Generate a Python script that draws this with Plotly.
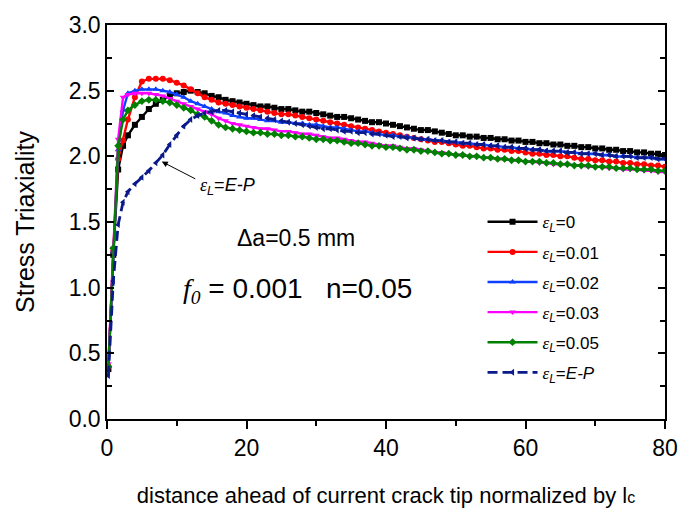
import plotly.graph_objects as go

# distance ahead of crack tip (normalized by lc)
x_vals = [0.2, 0.9, 1.6, 2.3] + list(range(3, 81))

eps_0 = [0.38, 1.25, 1.90, 2.08,
         2.16, 2.24, 2.30, 2.36, 2.40, 2.43, 2.46, 2.48, 2.49, 2.50, 2.49, 2.48, 2.46, 2.45, 2.43, 2.42, 2.41, 2.40,
         2.39, 2.38, 2.38, 2.37, 2.36, 2.36, 2.35, 2.34, 2.34, 2.33,
         2.32, 2.31, 2.30, 2.30, 2.29, 2.28, 2.27, 2.26, 2.26, 2.25,
         2.24, 2.23, 2.22, 2.21, 2.20, 2.20, 2.19, 2.18, 2.17, 2.16,
         2.16, 2.15, 2.15, 2.14, 2.14, 2.13, 2.13, 2.12, 2.12, 2.11,
         2.11, 2.10, 2.10, 2.09, 2.09, 2.08, 2.08, 2.07, 2.07, 2.06,
         2.06, 2.05, 2.05, 2.04, 2.04, 2.03, 2.03, 2.02, 2.02, 2.01]

eps_001 = [0.40, 1.28, 1.98, 2.12,
           2.28, 2.45, 2.57, 2.59, 2.59, 2.59, 2.58, 2.56, 2.54, 2.51, 2.48, 2.45, 2.43, 2.41, 2.40, 2.39, 2.38, 2.37,
           2.36, 2.35, 2.34, 2.33, 2.32, 2.32, 2.31, 2.30, 2.29, 2.28,
           2.27, 2.26, 2.25, 2.24, 2.23, 2.22, 2.21, 2.20, 2.19, 2.18,
           2.17, 2.16, 2.15, 2.14, 2.13, 2.12, 2.11, 2.11, 2.10, 2.09,
           2.08, 2.08, 2.07, 2.06, 2.06, 2.05, 2.05, 2.04, 2.04, 2.03,
           2.02, 2.02, 2.01, 2.01, 2.00, 2.00, 1.99, 1.98, 1.98, 1.97,
           1.97, 1.96, 1.96, 1.95, 1.95, 1.94, 1.94, 1.93, 1.93, 1.92]

eps_002 = [0.40, 1.28, 2.05, 2.35,
           2.48, 2.50, 2.51, 2.51, 2.51, 2.50, 2.49, 2.47, 2.45, 2.42, 2.40, 2.38, 2.36, 2.34, 2.33, 2.31, 2.30, 2.29,
           2.29, 2.28, 2.27, 2.27, 2.26, 2.26, 2.25, 2.25, 2.24, 2.24,
           2.23, 2.22, 2.22, 2.21, 2.20, 2.19, 2.19, 2.18, 2.17, 2.16,
           2.16, 2.15, 2.15, 2.14, 2.13, 2.13, 2.12, 2.12, 2.11, 2.11,
           2.10, 2.10, 2.09, 2.09, 2.08, 2.08, 2.07, 2.07, 2.06, 2.06,
           2.05, 2.05, 2.04, 2.04, 2.04, 2.03, 2.03, 2.02, 2.02, 2.02,
           2.01, 2.01, 2.00, 2.00, 2.00, 1.99, 1.99, 1.99, 1.98, 1.98]

eps_003 = [0.42, 1.30, 2.13, 2.45,
           2.47, 2.48, 2.48, 2.48, 2.47, 2.46, 2.44, 2.42, 2.40, 2.38, 2.36, 2.34, 2.32, 2.29, 2.27, 2.25, 2.24, 2.23,
           2.22, 2.21, 2.21, 2.20, 2.19, 2.19, 2.18, 2.17, 2.17, 2.16,
           2.15, 2.14, 2.14, 2.13, 2.12, 2.11, 2.11, 2.10, 2.09, 2.08,
           2.08, 2.07, 2.06, 2.06, 2.05, 2.04, 2.03, 2.03, 2.02, 2.01,
           2.01, 2.00, 2.00, 1.99, 1.99, 1.98, 1.98, 1.97, 1.97, 1.96,
           1.96, 1.95, 1.95, 1.94, 1.94, 1.94, 1.93, 1.93, 1.92, 1.92,
           1.92, 1.91, 1.91, 1.90, 1.90, 1.90, 1.89, 1.89, 1.88, 1.88]

eps_005 = [0.40, 1.30, 2.08, 2.28,
           2.35, 2.39, 2.42, 2.43, 2.43, 2.42, 2.41, 2.39, 2.37, 2.35, 2.32, 2.30, 2.27, 2.24, 2.22, 2.21, 2.20, 2.19,
           2.18, 2.18, 2.17, 2.17, 2.16, 2.16, 2.15, 2.15, 2.14, 2.13,
           2.13, 2.12, 2.12, 2.11, 2.10, 2.10, 2.09, 2.08, 2.08, 2.07,
           2.07, 2.06, 2.05, 2.05, 2.04, 2.04, 2.03, 2.02, 2.02, 2.01,
           2.01, 2.00, 2.00, 1.99, 1.99, 1.98, 1.98, 1.97, 1.97, 1.96,
           1.96, 1.96, 1.95, 1.95, 1.94, 1.94, 1.93, 1.93, 1.93, 1.92,
           1.92, 1.92, 1.91, 1.91, 1.91, 1.90, 1.90, 1.90, 1.89, 1.89]

eps_ep = [0.33, 1.05, 1.48, 1.65,
          1.73, 1.79, 1.84, 1.89, 1.95, 2.01, 2.09, 2.16, 2.23, 2.28, 2.31, 2.33, 2.34, 2.35, 2.35, 2.34, 2.33, 2.32,
          2.31, 2.30, 2.29, 2.28, 2.27, 2.26, 2.25, 2.24, 2.23, 2.22,
          2.21, 2.21, 2.20, 2.19, 2.19, 2.18, 2.18, 2.17, 2.17, 2.16,
          2.15, 2.15, 2.14, 2.14, 2.13, 2.13, 2.12, 2.12, 2.11, 2.11,
          2.10, 2.10, 2.09, 2.09, 2.08, 2.08, 2.07, 2.07, 2.06, 2.06,
          2.05, 2.05, 2.04, 2.04, 2.04, 2.03, 2.03, 2.02, 2.02, 2.02,
          2.01, 2.01, 2.00, 2.00, 2.00, 1.99, 1.99, 1.99, 1.98, 1.98]

EPS = '<span style="font-family:Liberation Serif"><i>ε</i></span><sub><i>L</i></sub>'
series_names = [EPS + "=0", EPS + "=0.01", EPS + "=0.02", EPS + "=0.03", EPS + "=0.05", EPS + "=<i>E-P</i>"]
series_values = [eps_0, eps_001, eps_002, eps_003, eps_005, eps_ep]
colors = ["#000000", "#ff0000", "#1040ff", "#ff00ff", "#008000", "#0a1a8a"]
symbols = ["square", "circle", "triangle-up", "triangle-down", "diamond", "triangle-left"]
dashes = ["solid", "solid", "solid", "solid", "solid", "10px,5px"]
widths = [2.4, 2.4, 2.4, 2.4, 2.4, 2.8]

FONT = "Liberation Sans, Arial, sans-serif"

fig = go.Figure()
for i, (nm, yv) in enumerate(zip(series_names, series_values)):
    fig.add_trace(go.Scatter(
        x=x_vals, y=yv, name=nm, mode="lines+markers",
        legendgroup="g%d" % i,
        line=dict(color=colors[i], width=widths[i], dash=dashes[i]),
        marker=dict(symbol=symbols[i], size=6, color=colors[i], line=dict(width=0)),
    ))

fig.update_layout(
    width=699, height=516,
    margin=dict(l=107, r=34, t=16, b=94),
    paper_bgcolor="white", plot_bgcolor="white",
    font=dict(family=FONT, color="black", size=22),
    showlegend=True,
    legend=dict(
        x=0.673, y=0.545, xanchor="left", yanchor="top",
        bgcolor="rgba(0,0,0,0)", borderwidth=0,
        font=dict(family=FONT, size=17, color="black"),
        itemwidth=50, tracegroupgap=5, traceorder="grouped",
    ),
    xaxis=dict(
        range=[0, 80], tickvals=[0, 20, 40, 60, 80],
        showgrid=False, zeroline=False,
        showline=True, linecolor="black", linewidth=1.5, mirror=True,
        ticks="outside", ticklen=8, tickwidth=1.5, tickcolor="black",
        minor=dict(tickvals=[10, 30, 50, 70], ticks="outside", ticklen=5, tickwidth=1.5, tickcolor="black"),
        tickfont=dict(size=23, family=FONT),
        title=dict(text='distance ahead of current crack tip normalized by l<span style="font-size:16px">c</span>',
                   font=dict(size=22, family=FONT), standoff=27),
    ),
    yaxis=dict(
        range=[0, 3], tickvals=[0, 0.5, 1.0, 1.5, 2.0, 2.5, 3.0], tickformat=".1f",
        showgrid=False, zeroline=False,
        showline=True, linecolor="black", linewidth=1.5, mirror="ticks",
        ticks="inside", ticklen=7, tickwidth=1.5, tickcolor="black",
        minor=dict(tickvals=[0.25, 0.75, 1.25, 1.75, 2.25, 2.75], ticks="inside", ticklen=5, tickwidth=1.5, tickcolor="black"),
        tickfont=dict(size=23, family=FONT),
        title=dict(text="Stress Triaxiality", font=dict(size=25, family=FONT), standoff=27),
    ),
)

fig.add_annotation(x=27.1, y=1.38, xref="x", yref="y", text="Δa=0.5 mm", showarrow=False,
                   font=dict(size=23, family=FONT, color="black"))
fig.add_annotation(x=27.3, y=0.98, xref="x", yref="y",
                   text='<span style="font-family:Liberation Serif"><i>f</i><sub><i>0</i></sub></span> = 0.001   n=0.05',
                   showarrow=False, font=dict(size=28, family=FONT, color="black"))
fig.add_annotation(x=17.3, y=1.77, xref="x", yref="y", text=EPS + "=<i>E-P</i>", showarrow=False,
                   font=dict(size=18, family=FONT, color="black"))
fig.add_annotation(x=7.85, y=1.96, xref="x", yref="y", text="", showarrow=True,
                   ax=35, ay=18, arrowhead=2, arrowsize=1.2, arrowwidth=1, arrowcolor="black")

fig.write_html("out.html")
